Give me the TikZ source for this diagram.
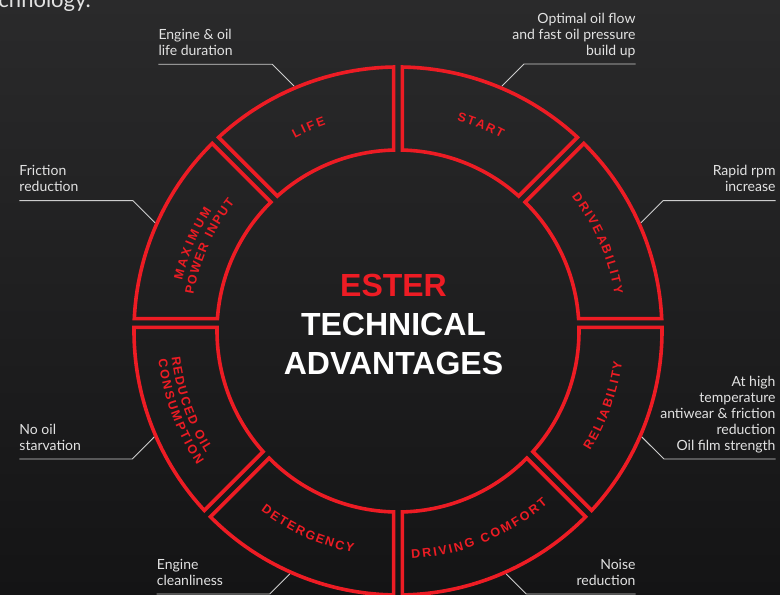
\documentclass[tikz,border=0pt]{standalone}
\usepackage{fontspec}
\setmainfont{Lato}
\newfontfamily\headfont{Liberation Sans}
\usepackage{xcolor}
\usepackage{tikz}

\definecolor{esterred}{RGB}{237,28,36}
\definecolor{bgtop}{RGB}{42,42,43}
\definecolor{bgbottom}{RGB}{20,20,21}
\definecolor{notegray}{RGB}{226,226,226}
\definecolor{leadergray}{RGB}{205,205,205}

\newcommand\seglabelfont{\headfont\bfseries\fontsize{12.5}{13}\selectfont}

% one segment name, letter by letter round the ring
% #1 name, #2 radius, #3 middle angle, #4 +1 clockwise / -1 anticlockwise, #5 tracking, #6 letters
\newcommand\ringword[6]{%
    \begingroup\seglabelfont
    \gdef\ltotal{0}%
    \foreach \sgch in {#6}{%
        \ifx\sgch\empty\def\lw{3.5}\else\pgfmathsetmacro\lw{width("\sgch")}\fi
        \pgfmathsetmacro\lsum{\ltotal+\lw+#5}\xdef\ltotal{\lsum}%
    }%
    \gdef\lpos{0}%
    \foreach \sgch [count=\idx] in {#6}{%
        \ifx\sgch\empty\def\lw{3.5}\else\pgfmathsetmacro\lw{width("\sgch")}\fi
        \pgfmathsetmacro\lang{#3+(#4)*((\ltotal-#5)/2-\lpos-\lw/2)/#2*57.2958}%
        \pgfmathsetmacro\lrot{(#4)>0 ? \lang-90 : \lang+90}%
        \node[seglabel, rotate=\lrot] (#1-\idx) at (\lang:#2pt) {\sgch};%
        \pgfmathsetmacro\lsum{\lpos+\lw+#5}\xdef\lpos{\lsum}%
    }%
    \endgroup
}

\begin{document}
\begin{tikzpicture} [
            x=1pt, y=1pt,
            % ----- Style definitions ----- %
            segline/.style = {
                draw = esterred,
                line width = 3.6pt,
                line join = miter
            },
            seglabel/.style = {
                text = esterred,
                inner sep = 0pt,
                font = \seglabelfont
            },
            note/.style = {
                text = notegray,
                inner sep = 0pt,
                text depth = 0pt,
                font = \fontsize{14}{16}\selectfont
            },
            leader/.style = {
                draw = leadergray,
                line width = 0.9pt
            },
            headline/.style = {
                text = white,
                align = center,
                inner sep = 0pt,
                text depth = 0pt,
                font = \headfont\bfseries\fontsize{32}{39}\selectfont
            },
    ]

        % ----- Background ----- %
        \useasboundingbox (0,0) rectangle (780,595);
        \shade[top color=bgtop, bottom color=bgbottom] (0,0) rectangle (780,595);
        \node[note, anchor=base east, font=\fontsize{22}{24}\selectfont] (introtail) at (91,587.5) {technology.};

        % ----- Ring ----- %
        \begin{scope}[shift={(398,264)}]
            \foreach \segang in {0,45,...,315}{
                \pgfmathsetmacro\segend{\segang+45}
                \pgfmathsetmacro\outA{\segang+asin((4.4+8*cos(\segang))/264)}
                \pgfmathsetmacro\outB{\segend+asin((-4.4+8*cos(\segend))/264)}
                \pgfmathsetmacro\inA{\segang+asin((4.4+8*cos(\segang))/181)}
                \pgfmathsetmacro\inB{\segend+asin((-4.4+8*cos(\segend))/181)}
                \draw[segline] (\outA:264pt) arc[start angle=\outA, end angle=\outB, radius=264pt]
                    -- (\inB:181pt) arc[start angle=\inB, end angle=\inA, radius=181pt] -- cycle;
            }

            % where the leaders meet the ring
            \coordinate (lifept)  at (113:266pt);
            \coordinate (flowpt)  at (67:266pt);
            \coordinate (rpmpt)   at (24:266pt);
            \coordinate (filmpt)  at (-23.5:266pt);
            \coordinate (noisept) at (-66:266pt);
            \coordinate (cleanpt) at (246:266pt);
            \coordinate (starvpt) at (203.5:266pt);
            \coordinate (fricpt)  at (156:266pt);

            % segment names
            \ringword{life}{223}{113.7}{1}{2.5}{L,I,F,E}
            \ringword{start}{223}{68.1}{1}{1.8}{S,T,A,R,T}
            \ringword{drive}{224}{23.7}{1}{2.1}{D,R,I,V,E,A,B,I,L,I,T,Y}
            \ringword{reli}{222}{-19.9}{-1}{1.6}{R,E,L,I,A,B,I,L,I,T,Y}
            \ringword{comfort}{224}{-67.8}{-1}{2.0}{D,R,I,V,I,N,G,{},C,O,M,F,O,R,T}
            \ringword{deter}{222}{245.6}{-1}{1.5}{D,E,T,E,R,G,E,N,C,Y}
            \ringword{reduced}{223.5}{199.5}{-1}{1.5}{R,E,D,U,C,E,D,{},O,I,L}
            \ringword{consum}{237}{200.2}{-1}{1.8}{C,O,N,S,U,M,P,T,I,O,N}
            \ringword{maxim}{226}{157}{1}{2.8}{M,A,X,I,M,U,M}
            \ringword{power}{212}{155.9}{1}{1.6}{P,O,W,E,R,{},I,N,P,U,T}
        \end{scope}

        % ----- Title ----- %
        \node[headline, anchor=south] (title) at (393.5,220) {\textcolor{esterred}{ESTER}\\TECHNICAL\\ADVANTAGES};

        % ----- Notes ----- %
        \node[note, anchor=south west, align=left] (lifetxt) at (158.3,539.2) {Engine \& oil\\life duration};
        \node[note, anchor=south east, align=right] (flowtxt) at (635.7,539.5) {Optimal oil flow\\and fast oil pressure\\build up};
        \node[note, anchor=south east, align=right] (rpmtxt) at (775.7,402.8) {Rapid rpm\\increase};
        \node[note, anchor=south east, align=right] (filmtxt) at (775.7,144.5) {At high\\temperature\\antiwear \& friction\\reduction\\Oil film strength};
        \node[note, anchor=south east, align=right] (noisetxt) at (635.7,9.5) {Noise\\reduction};
        \node[note, anchor=south west, align=left] (cleantxt) at (156.7,9.5) {Engine\\cleanliness};
        \node[note, anchor=south west, align=left] (starvtxt) at (19.3,144.5) {No oil\\starvation};
        \node[note, anchor=south west, align=left] (frictxt) at (19.3,402.8) {Friction\\reduction};

        \draw[leader] ([yshift=-8.5pt]lifetxt.south west) -- ++(114,0) -- (lifept);
        \draw[leader] ([yshift=-8.5pt]flowtxt.south east) -- ++(-111.7,0) -- (flowpt);
        \draw[leader] ([yshift=-8.5pt]rpmtxt.south east) -- ++(-112.6,0) -- (rpmpt);
        \draw[leader] ([yshift=-8.5pt]filmtxt.south east) -- ++(-111.8,0) -- (filmpt);
        \draw[leader] ([yshift=-8.5pt]noisetxt.south east) -- ++(-109.5,0) -- (noisept);
        \draw[leader] ([yshift=-8.5pt]cleantxt.south west) -- ++(113.1,0) -- (cleanpt);
        \draw[leader] ([yshift=-8.5pt]starvtxt.south west) -- ++(112.9,0) -- (starvpt);
        \draw[leader] ([yshift=-8.5pt]frictxt.south west) -- ++(113.6,0) -- (fricpt);

\end{tikzpicture}
\end{document}
